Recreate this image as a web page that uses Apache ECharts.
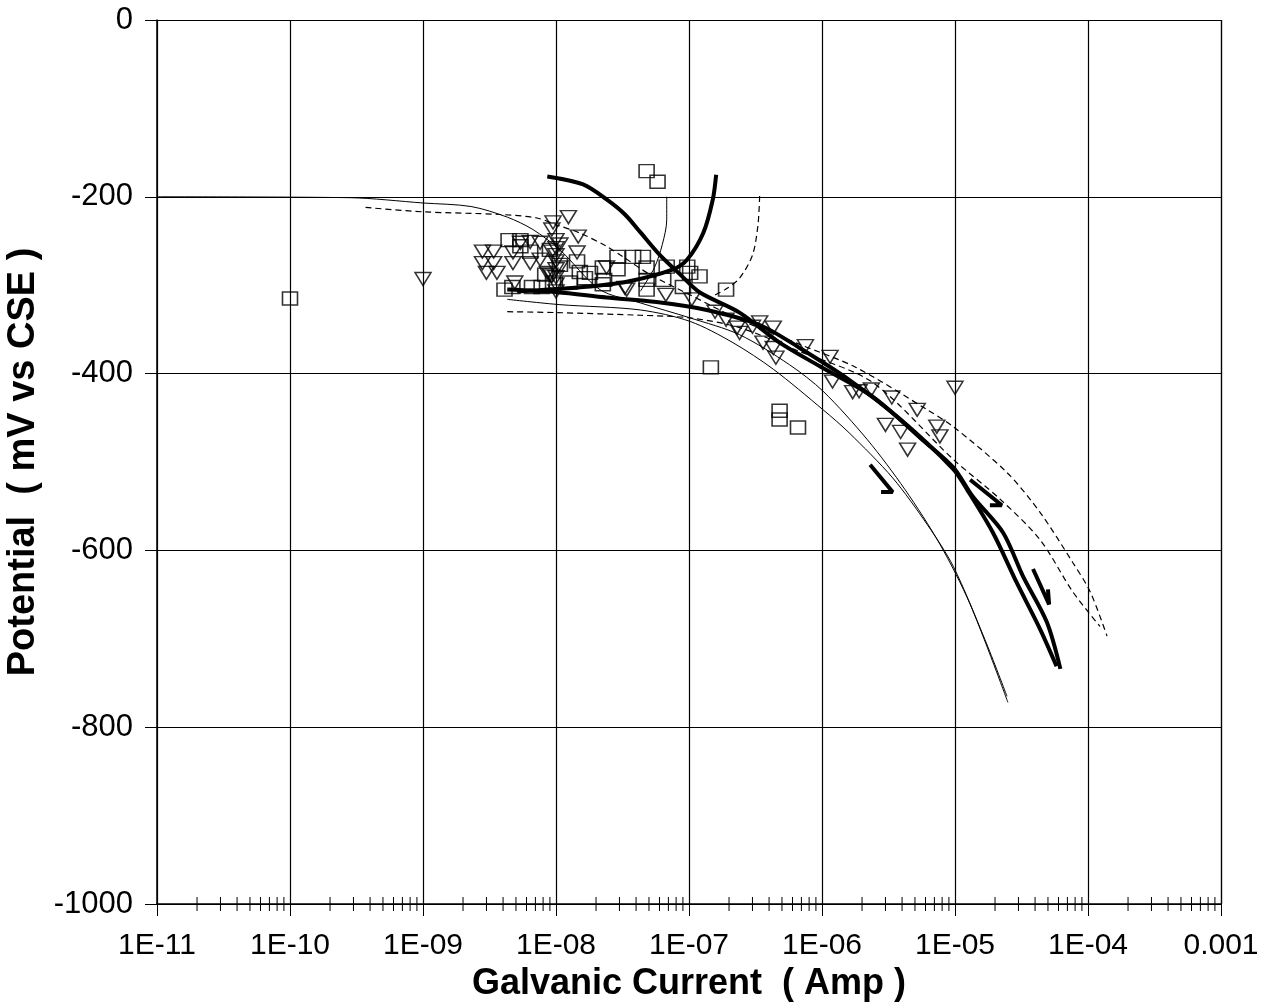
<!DOCTYPE html>
<html>
<head>
<meta charset="utf-8">
<script src="https://cdn.jsdelivr.net/npm/echarts@6/dist/echarts.min.js"></script>
<style>
html, body { margin: 0; padding: 0; background: #fff; }
#chart { width: 1267px; height: 1008px; }
</style>
</head>
<body>
<div id="chart"></div>
<script>
// galvanic current (Amp) vs potential (mV vs CSE)
const xTickLabels = ['1E-11', '1E-10', '1E-09', '1E-08', '1E-07', '1E-06', '1E-05', '1E-04', '0.001'];
const decades = [1e-11, 1e-10, 1e-9, 1e-8, 1e-7, 1e-6, 1e-5, 1e-4];

// thin solid curves
const thinA = [[1e-11,-200],[2.8e-10,-201],[1e-9,-207],[2.3e-9,-211],[4.3e-9,-223],[6.7e-9,-237],[1.07e-8,-260],[2.14e-8,-305],[4.3e-8,-320],[1.02e-7,-337],[2.4e-7,-356],[5.7e-7,-390],[1.02e-6,-420],[2.2e-6,-475],[4.2e-6,-531],[7.7e-6,-593],[1.3e-5,-661],[2.5e-5,-772]];
const thinB = [[4.3e-9,-316],[1.07e-8,-322],[4.3e-8,-328],[1.02e-7,-341],[2.14e-7,-365],[4.3e-7,-395],[1.02e-6,-441],[1.6e-6,-467],[3.4e-6,-518],[6.2e-6,-571],[9.7e-6,-618],[1.68e-5,-701],[2.46e-5,-765]];
const thinHook = [[4.3e-8,-307],[5.5e-8,-280],[6.3e-8,-254],[6.8e-8,-226],[6.8e-8,-200]];

// thick solid curves
const thickA = [[8.6e-9,-177],[1.6e-8,-186],[2.4e-8,-203],[3.3e-8,-220],[4.3e-8,-240],[6.05e-8,-266],[8.6e-8,-288],[1.2e-7,-308],[2.4e-7,-331],[4.8e-7,-365],[9.7e-7,-392],[2.4e-6,-426],[5.7e-6,-475],[9.7e-6,-506],[1.36e-5,-539],[2.3e-5,-580],[3.24e-5,-629],[4.9e-5,-681],[6.2e-5,-734]];
const thickB = [[4.3e-9,-305],[1.02e-8,-308],[2.4e-8,-314],[5.7e-8,-319],[1.36e-7,-328],[3.4e-7,-345],[6.8e-7,-371],[1.6e-6,-407],[3.9e-6,-452],[9.7e-6,-508],[1.23e-5,-531],[1.93e-5,-580],[2.9e-5,-636],[4.36e-5,-689],[5.8e-5,-731]];
const thickHook = [[5.1e-9,-307],[1.6e-8,-302],[3.4e-8,-296],[7.6e-8,-282],[9.7e-8,-271],[1.28e-7,-241],[1.51e-7,-203],[1.6e-7,-175]];

// dashed curves
const dashA = [[3.7e-10,-212],[1e-9,-217],[3.8e-9,-220],[7.2e-9,-224],[1.02e-8,-232],[1.51e-8,-241],[2.4e-8,-256],[3.2e-8,-268],[5.1e-8,-288],[1.02e-7,-311],[2.4e-7,-339],[6.8e-7,-367],[1.8e-6,-393],[6.2e-6,-441],[9.7e-6,-460],[2.46e-5,-512],[4.36e-5,-557],[7.7e-5,-614],[1.04e-4,-647],[1.39e-4,-697]];
const dashB = [[4.3e-9,-330],[1.02e-8,-331],[4.3e-8,-334],[1.02e-7,-337],[2.4e-7,-348],[6.8e-7,-375],[2.4e-6,-410],[9.7e-6,-497],[2.18e-5,-542],[4.36e-5,-588],[7.7e-5,-647],[1.23e-4,-686]];
const dashHook = [[1.57e-7,-311],[1.87e-7,-305],[2.4e-7,-292],[3.0e-7,-266],[3.3e-7,-232],[3.4e-7,-198]];

// open squares
const squares = [[1e-10,-315],[4.8e-8,-171],[5.8e-8,-183],[1.46e-7,-393],[1.9e-7,-305],[4.8e-7,-442],[4.8e-7,-452],[6.6e-7,-461],
  [4.4e-9,-249],[5.4e-9,-249],[4.7e-9,-302],[6.6e-9,-302],[7.8e-9,-302],[9.5e-9,-297],[1.44e-8,-273],[1.51e-8,-285],[1.65e-8,-292],
  [1.8e-8,-286],[2.25e-8,-280],[2.9e-8,-268],[2.9e-8,-282],[2.25e-8,-299],[1.27e-8,-297],[3.8e-8,-268],[4.5e-8,-268],[4.8e-8,-280],
  [4.8e-8,-294],[6.8e-8,-279],[6.4e-8,-294],[9.7e-8,-279],[1.02e-7,-286],[1.2e-7,-290],[9.0e-8,-302],[2.3e-8,-294],[4.8e-8,-305],
  [9.0e-9,-260],[1.07e-8,-277],[8.3e-9,-288],[5.4e-9,-256],[6.4e-9,-262],[4.1e-9,-305]];

// open inverted triangles
const triangles = [[1e-9,-293],[1.0e-5,-416],
  [2.8e-9,-262],[3.4e-9,-262],[2.8e-9,-275],[3.4e-9,-275],[3.0e-9,-286],[3.6e-9,-286],[4.75e-9,-263],[5.4e-9,-252],[6.4e-9,-251],
  [7.6e-9,-252],[4.75e-9,-275],[6.4e-9,-275],[7.6e-9,-271],[9.3e-9,-237],[1.47e-8,-245],[8.6e-9,-286],[4.9e-9,-297],[1.44e-8,-263],
  [2.4e-8,-280],[3.4e-8,-305],[1.24e-8,-223],[9.5e-9,-229],
  [1e-8,-249],[1e-8,-258],[1e-8,-266],[1e-8,-273],[1e-8,-282],[1e-8,-291],[1e-8,-299],[1e-8,-307],
  [9.3e-9,-262],[1.07e-8,-280],[9.3e-9,-290],[1.07e-8,-254],[9.0e-9,-288],
  [3.3e-8,-303],[6.7e-8,-311],[1.05e-7,-316],[1.57e-7,-330],[1.9e-7,-339],[2.3e-7,-348],[3.0e-7,-347],[3.4e-7,-342],[4.3e-7,-348],
  [3.6e-7,-365],[4.3e-7,-371],[4.5e-7,-382],[7.5e-7,-369],[1.15e-6,-381],[1.2e-6,-409],[1.7e-6,-421],[2.35e-6,-418],[1.9e-6,-420],
  [3.35e-6,-427],[5.2e-6,-441],[3.0e-6,-458],[3.9e-6,-466],[7.3e-6,-460],[7.7e-6,-471],[4.4e-6,-486],[2.4e-7,-354]];

// direction arrows (tail, tip, barb)
const arrows = [
  [[2.3e-6,-503],[3.4e-6,-534],[2.78e-6,-534]],
  [[1.3e-5,-520],[2.25e-5,-549],[1.83e-5,-549]],
  [[3.86e-5,-621],[5.1e-5,-661],[5.0e-5,-644]]
];

const minorTicks = [];
decades.forEach(d => { for (let k = 2; k <= 9; k++) minorTicks.push([d * k, -1000]); });

const font = '"Liberation Sans", Arial, sans-serif';

function curve(data, width, dashed) {
  return {
    type: 'line', data: data, showSymbol: false, smooth: 0.3, silent: true,
    lineStyle: { color: '#000', width: width, type: dashed ? [6, 4] : 'solid' }
  };
}

const series = [
  {
    type: 'scatter', data: squares, symbol: 'rect', symbolSize: [15, 13],
    itemStyle: { color: 'rgba(255,255,255,0)', borderColor: '#000', borderWidth: 1.5 }
  },
  {
    type: 'scatter', data: triangles, symbol: 'triangle', symbolRotate: 180, symbolSize: [16, 13],
    itemStyle: { color: 'rgba(255,255,255,0)', borderColor: '#000', borderWidth: 1.5 }
  },
  curve(thinA, 1), curve(thinB, 1), curve(thinHook, 1),
  curve(thickA, 4), curve(thickB, 4), curve(thickHook, 4),
  curve(dashA, 1.2, true), curve(dashB, 1.2, true), curve(dashHook, 1.2, true),
  {
    type: 'custom', data: minorTicks, silent: true, clip: false,
    renderItem: function (params, api) {
      const p = api.coord([api.value(0), api.value(1)]);
      return { type: 'line', shape: { x1: p[0], y1: p[1] - 7, x2: p[0], y2: p[1] + 7 }, style: { stroke: '#000', lineWidth: 1 } };
    }
  }
];
arrows.forEach(a => {
  series.push({ type: 'line', data: a, showSymbol: false, silent: true, lineStyle: { color: '#000', width: 4 } });
});

const chart = echarts.init(document.getElementById('chart'));
chart.setOption({
  animation: false,
  backgroundColor: '#fff',
  grid: { left: 157, right: 46, top: 20, bottom: 104, containLabel: false, outerBoundsMode: 'none' },
  xAxis: {
    type: 'log', logBase: 10, min: 1e-11, max: 1e-3, splitNumber: 8,
    name: 'Galvanic Current  ( Amp )', nameLocation: 'middle', nameGap: 52,
    nameTextStyle: { fontFamily: font, fontSize: 36, fontWeight: 'bold', color: '#000' },
    axisLine: { onZero: false, lineStyle: { color: '#000', width: 1.5 } },
    axisTick: { length: 12, lineStyle: { color: '#000' } },
    axisLabel: {
      fontFamily: font, fontSize: 30, color: '#000', margin: 27,
      formatter: v => xTickLabels[Math.round(Math.log10(v) + 11)]
    },
    splitLine: { show: true, lineStyle: { color: '#000', width: 1.2 } }
  },
  yAxis: {
    type: 'value', min: -1000, max: 0, interval: 200,
    name: 'Potential  ( mV vs CSE )', nameLocation: 'middle', nameGap: 106,
    nameTextStyle: { fontFamily: font, fontSize: 38, fontWeight: 'bold', color: '#000' },
    axisLine: { show: true, lineStyle: { color: '#000', width: 1.5 } },
    axisTick: { show: true, length: 12, lineStyle: { color: '#000' } },
    axisLabel: { fontFamily: font, fontSize: 31, color: '#000', margin: 24, formatter: v => String(v) },
    splitLine: { show: true, lineStyle: { color: '#000', width: 1.2 } }
  },
  series: series
});
</script>
</body>
</html>
